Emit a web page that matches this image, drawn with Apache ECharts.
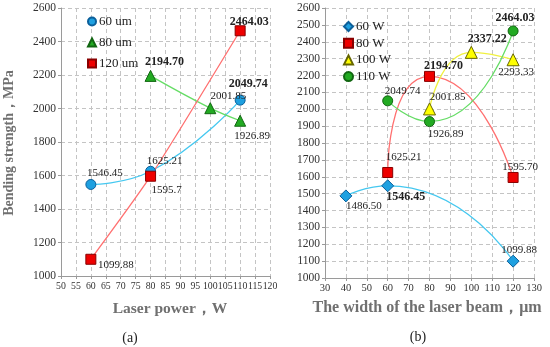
<!DOCTYPE html>
<html><head><meta charset="utf-8">
<script src="https://cdn.jsdelivr.net/npm/echarts@6/dist/echarts.min.js"></script>
<style>html,body{margin:0;padding:0;background:#fff}#c{width:550px;height:347px}</style>
</head><body><div id="c"></div>
<script>
// ---- data: chart (a) laser power ----
const a60x = [60, 80, 110];   const a60y = [1546.45, 1625.21, 2049.74];
const a80x = [80, 100, 110];  const a80y = [2194.70, 2001.85, 1926.89];
const a120x = [60, 80, 110];  const a120y = [1099.88, 1595.7, 2464.03];
const a60lbl = ['1546.45', '1625.21', '2049.74'];
const a80lbl = ['2194.70', '2001.85', '1926.89'];
const a120lbl = ['1099.88', '1595.7', '2464.03'];
// ---- data: chart (b) beam width ----
const b60x = [40, 60, 120];   const b60y = [1486.50, 1546.45, 1099.88];
const b80x = [60, 80, 120];   const b80y = [1625.21, 2194.70, 1595.70];
const b100x = [80, 100, 120]; const b100y = [2001.85, 2337.22, 2293.33];
const b110x = [60, 80, 120];  const b110y = [2049.74, 1926.89, 2464.03];
const b60lbl = ['1486.50', '1546.45', '1099.88'];
const b80lbl = ['1625.21', '2194.70', '1595.70'];
const b100lbl = ['2001.85', '2337.22', '2293.33'];
const b110lbl = ['2049.74', '1926.89', '2464.03'];
const seriesNamesA = ['60 um', '80 um', '120 um'];
const seriesNamesB = ['60 W', '80 W', '100 W', '110 W'];
const xTitleA = 'Laser power，W';
const xTitleB = 'The width of the laser beam，μm';
const yTitle = 'Bending strength，MPa';

// ---- styling (label offsets / bold flags) ----
const a60off = [[14,-11],[14,-10],[8,-16]];   const a60bold = [0,0,1];
const a80off = [[14,-14],[18,-12],[12,15]];   const a80bold = [1,0,0];
const a120off = [[25,6],[16,14],[9,-9]];      const a120bold = [0,0,1];
const b60off = [[18,10],[18,11],[6,-11]];     const b60bold = [0,1,0];
const b80off = [[16,-15],[14,-10],[7,-10]];   const b80bold = [0,1,0];
const b100off = [[18,-12],[16,-13],[3,12]];   const b100bold = [0,1,0];
const b110off = [[15,-10],[16,13],[2,-13]];   const b110bold = [0,0,1];

const FONT = '"Liberation Serif", "DejaVu Serif", serif';

function mk(xs, ys, lbls, offs, bolds) {
  return xs.map((x, i) => ({
    value: [x, ys[i]],
    label: {
      show: true, position: 'inside', offset: offs[i],
      formatter: lbls[i], color: '#222', fontFamily: FONT,
      fontSize: bolds[i] ? 12 : 11, fontWeight: bolds[i] ? 'bold' : 'normal',
      align: 'center', verticalAlign: 'middle'
    }
  }));
}

function ser(name, gi, data, symbol, size, lineColor, fill, border, smooth) {
  return {
    name, type: 'line', xAxisIndex: gi, yAxisIndex: gi, data,
    smooth: smooth, smoothConstraint: false, symbol, symbolSize: size,
    lineStyle: { color: lineColor, width: 1.3 },
    itemStyle: { color: fill, borderColor: border, borderWidth: 1 },
    z: 3
  };
}

const plain = v => String(v);
function axisBase(fs) {
  return {
    axisLine: { show: true, lineStyle: { color: '#9a9a9a' } },
    axisTick: { show: true, length: 3, lineStyle: { color: '#9a9a9a' } },
    axisLabel: { color: '#333', fontFamily: FONT, fontSize: fs, margin: 5, formatter: plain,
      interval: 0, hideOverlap: false, showMinLabel: true, showMaxLabel: true },
    splitLine: { show: true, lineStyle: { color: '#c4c4c4', type: [4, 3] } }
  };
}
const titleStyle = { fill: '#707070', fontFamily: FONT, fontWeight: 'bold', fontSize: 15.5 };

const option = {
  animation: false,
  backgroundColor: '#fff',
  grid: [
    { left: 61, right: 280, top: 8, bottom: 71 },
    { left: 325, right: 16, top: 8, bottom: 69 }
  ],
  xAxis: [
    Object.assign(axisBase(9.8), { type: 'value', gridIndex: 0, min: 50, max: 120, interval: 5 }),
    Object.assign(axisBase(10.5), { type: 'value', gridIndex: 1, min: 30, max: 130, interval: 10 })
  ],
  yAxis: [
    Object.assign(axisBase(11.5), { type: 'value', gridIndex: 0, min: 1000, max: 2600, interval: 200 }),
    Object.assign(axisBase(11.5), { type: 'value', gridIndex: 1, min: 1000, max: 2600, interval: 100 })
  ],
  legend: [
    { orient: 'vertical', left: 82, top: 10, itemWidth: 8, itemHeight: 8, itemGap: 8,
      textStyle: { fontFamily: FONT, fontSize: 13, color: '#222', padding: [0,0,0,-2] },
      data: [
        { name: seriesNamesA[0], icon: 'circle' },
        { name: seriesNamesA[1], icon: 'triangle' },
        { name: seriesNamesA[2], icon: 'rect' }
      ] },
    { orient: 'vertical', left: 338, top: 15, itemWidth: 9, itemHeight: 9, itemGap: 3.7,
      textStyle: { fontFamily: FONT, fontSize: 13, color: '#222', padding: [0,0,0,-2] },
      data: [
        { name: seriesNamesB[0], icon: 'diamond' },
        { name: seriesNamesB[1], icon: 'rect' },
        { name: seriesNamesB[2], icon: 'triangle' },
        { name: seriesNamesB[3], icon: 'circle' }
      ] }
  ],
  graphic: [
    { type: 'text', x: 9, y: 143, rotation: Math.PI / 2,
      style: Object.assign({ text: yTitle, textAlign: 'center', textVerticalAlign: 'middle' }, titleStyle, { fontSize: 14 }) },
    { type: 'text', style: Object.assign({ text: xTitleA, textAlign: 'center', textVerticalAlign: 'middle' }, titleStyle), x: 170, y: 309 },
    { type: 'text', style: Object.assign({ text: xTitleB, textAlign: 'center', textVerticalAlign: 'middle' }, titleStyle, { fontSize: 16 }), x: 427, y: 308 },
    { type: 'text', style: { text: '(a)', fontFamily: FONT, fontSize: 14, fill: '#222', textAlign: 'center', textVerticalAlign: 'middle' }, x: 130, y: 338 },
    { type: 'text', style: { text: '(b)', fontFamily: FONT, fontSize: 14, fill: '#222', textAlign: 'center', textVerticalAlign: 'middle' }, x: 418, y: 337 }
  ],
  series: [
    ser(seriesNamesA[0], 0, mk(a60x, a60y, a60lbl, a60off, a60bold), 'circle', 10, '#45c8f0', '#1ea0e0', '#0b5f9a', 0.5),
    ser(seriesNamesA[1], 0, mk(a80x, a80y, a80lbl, a80off, a80bold), 'triangle', 11, '#66dd66', '#22aa22', '#116611', 0.4),
    ser(seriesNamesA[2], 0, mk(a120x, a120y, a120lbl, a120off, a120bold), 'rect', 10, '#ff7070', '#ee0000', '#880000', 0.2),
    ser(seriesNamesB[0], 1, mk(b60x, b60y, b60lbl, b60off, b60bold), 'diamond', 12, '#45c8f0', '#1ea0e0', '#0b5f9a', 0.6),
    ser(seriesNamesB[1], 1, mk(b80x, b80y, b80lbl, b80off, b80bold), 'rect', 10, '#ff7070', '#ee0000', '#880000', 0.8),
    ser(seriesNamesB[2], 1, mk(b100x, b100y, b100lbl, b100off, b100bold), 'triangle', 12, '#f0f040', '#ffff00', '#666600', 0.6),
    ser(seriesNamesB[3], 1, mk(b110x, b110y, b110lbl, b110off, b110bold), 'circle', 10, '#66dd66', '#22aa22', '#116611', 0.6)
  ]
};
const chart = echarts.init(document.getElementById('c'), null, { renderer: 'canvas' });
chart.setOption(option);
</script></body></html>
